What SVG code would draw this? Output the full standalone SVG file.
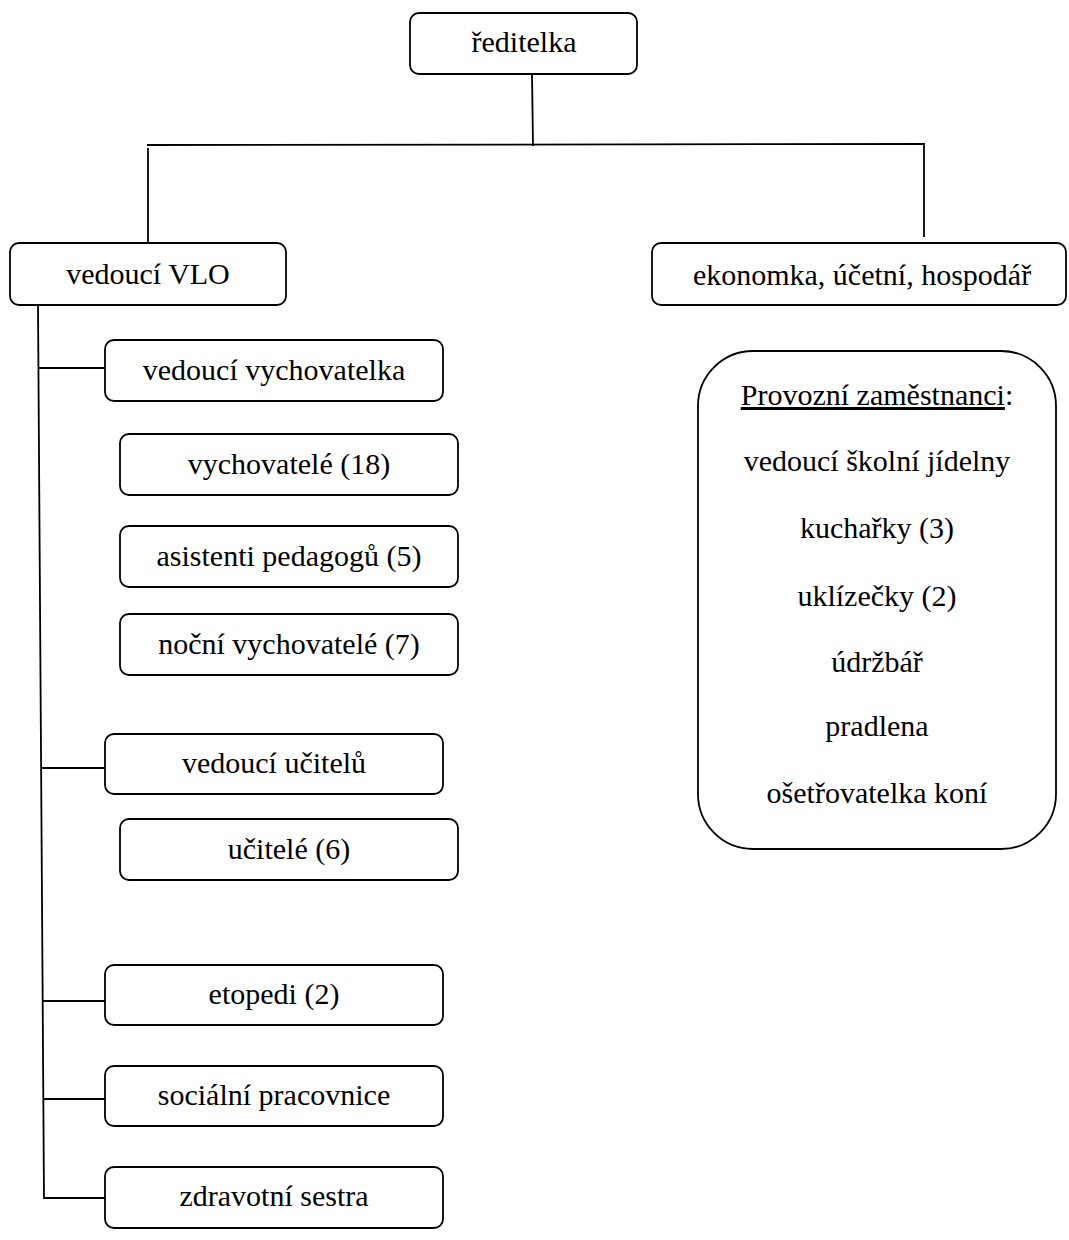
<svg xmlns="http://www.w3.org/2000/svg" width="1069" height="1240" viewBox="0 0 1069 1240">
<style>
.box{fill:#fff;stroke:#000;stroke-width:1.8}
.ln{stroke:#000;stroke-width:1.8;fill:none}
text{font-family:"Liberation Serif","DejaVu Serif",serif;font-size:30px;fill:#000;text-anchor:middle}
</style>
<rect width="1069" height="1240" fill="#fff"/>
<g id="connectors">
<line class="ln" x1="532" y1="74" x2="533" y2="146"/>
<line class="ln" x1="147" y1="145" x2="925" y2="144"/>
<line class="ln" x1="148" y1="148" x2="148" y2="243"/>
<line class="ln" x1="924" y1="144" x2="924" y2="237"/>
<line class="ln" x1="38" y1="305" x2="44" y2="1199"/>
<line class="ln" x1="38" y1="368" x2="105" y2="368"/>
<line class="ln" x1="41" y1="768" x2="105" y2="768"/>
<line class="ln" x1="43" y1="1001" x2="105" y2="1001"/>
<line class="ln" x1="43" y1="1099" x2="105" y2="1099"/>
<line class="ln" x1="44" y1="1198" x2="105" y2="1198"/>
</g>
<g id="reditelka"><rect class="box" x="410" y="13" width="227" height="61" rx="9"/><text x="524" y="52">ředitelka</text></g>
<g id="vedouci-vlo"><rect class="box" x="10" y="243" width="276" height="62" rx="9"/><text x="148" y="284">vedoucí VLO</text></g>
<g id="ekonomka"><rect class="box" x="652" y="243" width="414" height="62" rx="9"/><text x="862" y="285">ekonomka, účetní, hospodář</text></g>
<g id="vedouci-vychovatelka"><rect class="box" x="105" y="340" width="338" height="61" rx="9"/><text x="274" y="380">vedoucí vychovatelka</text></g>
<g id="vychovatele"><rect class="box" x="120" y="434" width="338" height="61" rx="9"/><text x="289" y="474">vychovatelé (18)</text></g>
<g id="asistenti"><rect class="box" x="120" y="526" width="338" height="61" rx="9"/><text x="289" y="566">asistenti pedagogů (5)</text></g>
<g id="nocni"><rect class="box" x="120" y="614" width="338" height="61" rx="9"/><text x="289" y="654">noční vychovatelé (7)</text></g>
<g id="vedouci-ucitelu"><rect class="box" x="105" y="734" width="338" height="60" rx="9"/><text x="274" y="773">vedoucí učitelů</text></g>
<g id="ucitele"><rect class="box" x="120" y="819" width="338" height="61" rx="9"/><text x="289" y="859">učitelé (6)</text></g>
<g id="etopedi"><rect class="box" x="105" y="965" width="338" height="60" rx="9"/><text x="274" y="1004">etopedi (2)</text></g>
<g id="socialni"><rect class="box" x="105" y="1066" width="338" height="60" rx="9"/><text x="274" y="1105">sociální pracovnice</text></g>
<g id="zdravotni"><rect class="box" x="105" y="1167" width="338" height="61" rx="9"/><text x="274" y="1206">zdravotní sestra</text></g>
<g id="provozni">
<rect class="box" x="698" y="351" width="358" height="498" rx="55"/>
<text x="877" y="405"><tspan text-decoration="underline">Provozní zaměstnanci</tspan>:</text>
<text x="877" y="471">vedoucí školní jídelny</text>
<text x="877" y="538">kuchařky (3)</text>
<text x="877" y="606">uklízečky (2)</text>
<text x="877" y="672">údržbář</text>
<text x="877" y="736">pradlena</text>
<text x="877" y="803">ošetřovatelka koní</text>
</g>
</svg>
